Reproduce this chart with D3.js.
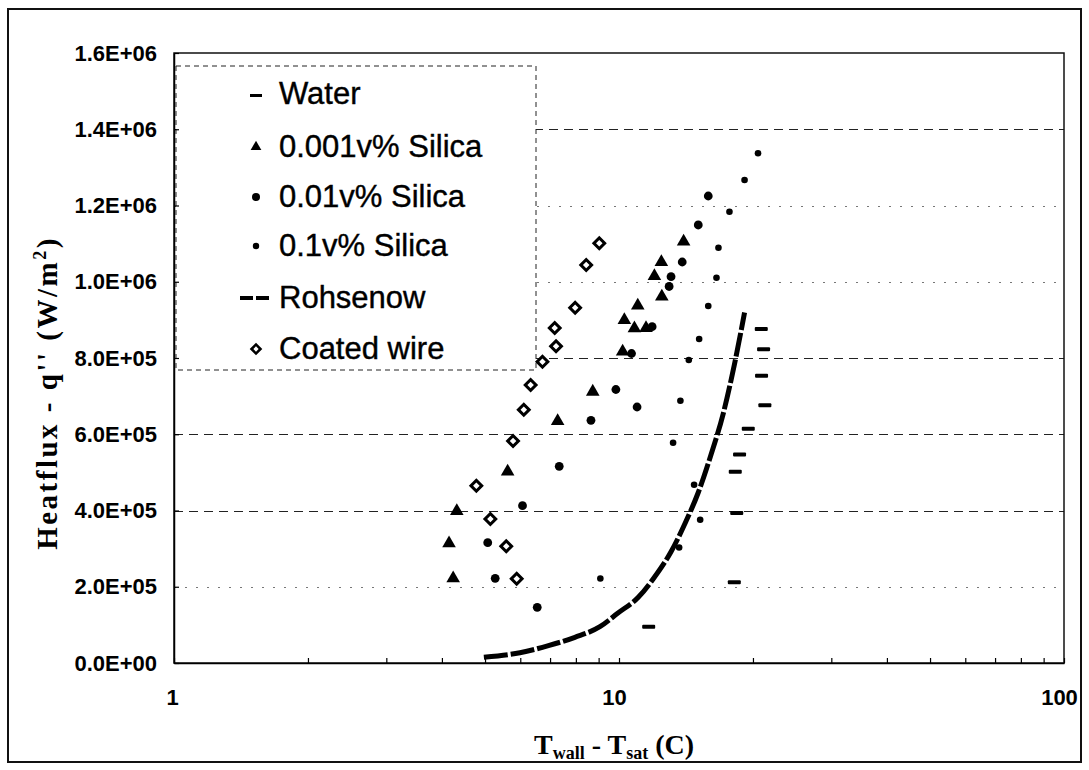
<!DOCTYPE html>
<html>
<head>
<meta charset="utf-8">
<script src="https://cdn.jsdelivr.net/npm/d3@7"></script>
<style>
  body { margin: 0; background: #fff; }
  svg { display: block; }
</style>
</head>
<body>
<svg id="chart"></svg>
<script>
// values: [deltaT (C), heat flux (W/m2)]
const water = [
  [11.66, 95200], [18.16, 211700], [18.39, 393500], [18.25, 501500], [18.66, 546900],
  [19.52, 614300], [21.27, 676200], [20.91, 753600], [21.13, 822800], [20.88, 876100]
]
const silica001 = [
  [4.24, 222200], [4.15, 314000], [4.32, 398700], [5.62, 502300], [7.28, 634800],
  [8.73, 711600], [10.19, 816600], [10.28, 899700], [10.83, 877900], [11.50, 878700],
  [11.02, 937700], [12.01, 1015100], [12.48, 960800], [12.45, 1051800], [13.97, 1105100]
]
const silica01 = [
  [5.07, 315600], [5.27, 222200], [6.07, 412600], [6.55, 146100], [7.34, 516000],
  [8.65, 636600], [9.84, 717400], [10.98, 671500], [10.67, 811800], [11.87, 882100],
  [12.96, 987600], [13.09, 1013300], [13.87, 1051800], [15.07, 1148900], [15.87, 1224900]
]
const silica1 = [
  [9.08, 221600], [13.65, 303000], [15.22, 375900], [14.75, 467700], [13.23, 577800],
  [13.74, 688000], [14.35, 794800], [15.14, 849900], [15.87, 936400], [16.56, 1010600],
  [16.73, 1089300], [17.71, 1183800], [19.15, 1266900], [20.53, 1336900]
]
const rohsenow = [
  [4.97, 15000], [5.99, 27000], [6.94, 45400], [7.96, 67400], [9.06, 95200],
  [9.93, 130400], [11.05, 172300], [12.01, 224800], [13.09, 291900], [14.12, 369800],
  [15.07, 447200], [16.09, 545600], [17.15, 654400], [18.16, 781700], [19.15, 919400]
]
const coated = [
  [9.03, 1100900], [8.44, 1043900], [7.97, 932000], [7.17, 878700], [7.22, 830700],
  [6.73, 790300], [6.33, 729200], [6.11, 664400], [5.78, 582300], [4.78, 465000],
  [5.14, 377700], [5.58, 306400], [5.89, 221100]
]

const legendLabels = ['Water', '0.001v% Silica', '0.01v% Silica', '0.1v% Silica', 'Rohsenow', 'Coated wire']
const yTicks = [0, 2e5, 4e5, 6e5, 8e5, 1e6, 1.2e6, 1.4e6, 1.6e6]
const yTickLabels = ['0.0E+00', '2.0E+05', '4.0E+05', '6.0E+05', '8.0E+05', '1.0E+06', '1.2E+06', '1.4E+06', '1.6E+06']
const xTicks = [1, 2, 3, 4, 5, 6, 7, 8, 9, 10, 20, 30, 40, 50, 60, 70, 80, 90, 100]
const xTickLabels = { 1: '1', 10: '10', 100: '100' }

const W = 1089
const H = 770
const pd = { top: 53, left: 174, right: 25, bottom: 107 }

const svg = d3.select('#chart')
  .attr('width', W)
  .attr('height', H)

const x = d3.scaleLog()
  .domain([1, 100])
  .range([pd.left, W - pd.right])

const y = d3.scaleLinear()
  .domain([0, 1.6e6])
  .range([H - pd.bottom, pd.top])

// outer frame
svg.append('rect')
  .attr('x', 8).attr('y', 9)
  .attr('width', 1073).attr('height', 753)
  .attr('fill', 'none')
  .attr('stroke', '#111')
  .attr('stroke-width', 2)

// gridlines (some print lighter in the original)
const faint = [2e5, 1e6, 1.2e6]
svg.append('g')
  .selectAll('line')
  .data(yTicks.filter(v => v > 0 && v < 1.6e6))
  .enter()
  .append('line')
  .attr('x1', pd.left)
  .attr('x2', W - pd.right)
  .attr('y1', d => Math.round(y(d)) + 0.5)
  .attr('y2', d => Math.round(y(d)) + 0.5)
  .attr('stroke', d => faint.includes(d) ? '#777' : '#222')
  .attr('stroke-width', 1.2)
  .attr('stroke-dasharray', d => faint.includes(d) ? '2,9' : '9,6')

// legend box
const lg = svg.append('g')
lg.append('rect')
  .attr('x', 176).attr('y', 66)
  .attr('width', 360).attr('height', 304)
  .attr('fill', '#fff')
  .attr('stroke', '#222')
  .attr('stroke-width', 1)
  .attr('stroke-dasharray', '5,4')

const rowY = [93, 146, 196, 245, 297, 348]
const sx = 256
lg.selectAll('text')
  .data(legendLabels)
  .enter()
  .append('text')
  .attr('x', 279)
  .attr('y', (d, i) => rowY[i])
  .attr('dy', '0.36em')
  .attr('font-family', 'Liberation Sans, Arial, sans-serif')
  .attr('font-size', 31)
  .attr('fill', '#000')
  .attr('stroke', '#000')
  .attr('stroke-width', 0.4)
  .text(d => d)

const tri = d3.symbol().type(d3.symbolTriangle)
const sq = d3.symbol().type(d3.symbolSquare)

// legend symbols
lg.append('rect').attr('x', sx - 6).attr('y', rowY[0] + 1).attr('width', 12).attr('height', 3).attr('fill', '#000')
lg.append('path').attr('d', tri.size(50)()).attr('transform', `translate(${sx},${rowY[1] + 1})`).attr('fill', '#000')
lg.append('circle').attr('cx', sx).attr('cy', rowY[2] + 1).attr('r', 4).attr('fill', '#000')
lg.append('circle').attr('cx', sx).attr('cy', rowY[3] + 1).attr('r', 3.2).attr('fill', '#000')
lg.append('line').attr('x1', sx - 16).attr('x2', sx + 14).attr('y1', rowY[4] + 1).attr('y2', rowY[4] + 1)
  .attr('stroke', '#000').attr('stroke-width', 4).attr('stroke-dasharray', '13,3')
lg.append('path').attr('d', sq.size(40)()).attr('transform', `translate(${sx},${rowY[5] + 1}) rotate(45)`)
  .attr('fill', '#fff').attr('stroke', '#000').attr('stroke-width', 2.6)

// data
const g = svg.append('g')

g.append('path')
  .datum(rohsenow)
  .attr('d', d3.line().curve(d3.curveMonotoneX).x(v => x(v[0])).y(v => y(v[1])))
  .attr('fill', 'none')
  .attr('stroke', '#000')
  .attr('stroke-width', 5)
  .attr('stroke-dasharray', '24,3')

g.append('g').selectAll('rect')
  .data(water).enter().append('rect')
  .attr('x', v => x(v[0]) - 6.5)
  .attr('y', v => y(v[1]) - 2)
  .attr('width', 13).attr('height', 4)
  .attr('rx', 1)
  .attr('fill', '#000')

g.append('g').selectAll('path')
  .data(silica001).enter().append('path')
  .attr('d', tri.size(80)())
  .attr('transform', v => `translate(${x(v[0])},${y(v[1])})`)
  .attr('fill', '#000')

g.append('g').selectAll('circle')
  .data(silica01).enter().append('circle')
  .attr('cx', v => x(v[0]))
  .attr('cy', v => y(v[1]))
  .attr('r', 4.4)
  .attr('fill', '#000')

g.append('g').selectAll('circle')
  .data(silica1).enter().append('circle')
  .attr('cx', v => x(v[0]))
  .attr('cy', v => y(v[1]))
  .attr('r', 3.3)
  .attr('fill', '#000')

g.append('g').selectAll('path')
  .data(coated).enter().append('path')
  .attr('d', sq.size(58)())
  .attr('transform', v => `translate(${x(v[0])},${y(v[1])}) rotate(45)`)
  .attr('fill', '#fff')
  .attr('stroke', '#000')
  .attr('stroke-width', 3)

// plot frame
svg.append('rect')
  .attr('x', pd.left).attr('y', pd.top)
  .attr('width', W - pd.right - pd.left)
  .attr('height', H - pd.bottom - pd.top)
  .attr('fill', 'none')
  .attr('stroke', '#111')
  .attr('stroke-width', 1.5)

// axes
const ya = svg.append('g')
  .attr('transform', `translate(${pd.left},0)`)
  .call(
    d3.axisLeft(y)
      .tickValues(yTicks)
      .tickFormat((d, i) => yTickLabels[i])
      .tickSizeInner(-5)
      .tickSizeOuter(0)
      .tickPadding(17)
  )

const xa = svg.append('g')
  .attr('transform', `translate(0,${H - pd.bottom})`)
  .call(
    d3.axisBottom(x)
      .tickValues(xTicks)
      .tickFormat(d => xTickLabels[d] || '')
      .tickSizeInner(-5)
      .tickSizeOuter(0)
      .tickPadding(26)
  )
xa.selectAll('.tick text').attr('dx', d => d === 1 ? -2 : -5)

svg.selectAll('.tick text')
  .attr('font-family', 'Liberation Sans, Arial, sans-serif')
  .attr('font-weight', 'bold')
  .attr('font-size', 22)
  .attr('fill', '#000')
svg.selectAll('.tick line').attr('stroke', '#000').attr('stroke-width', 1.2)
svg.selectAll('.domain').attr('stroke', '#000').attr('stroke-width', 1.5)

// axis titles
const xt = svg.append('text')
  .attr('x', 614)
  .attr('y', 754)
  .attr('text-anchor', 'middle')
  .attr('font-family', 'Liberation Serif, Times New Roman, serif')
  .attr('font-weight', 'bold')
  .attr('font-size', 28)
xt.append('tspan').text('T')
xt.append('tspan').attr('font-size', 18).attr('dy', 5).text('wall')
xt.append('tspan').attr('dy', -5).text(' - T')
xt.append('tspan').attr('font-size', 18).attr('dy', 5).text('sat')
xt.append('tspan').attr('dy', -5).text(' (C)')

const yt = svg.append('text')
  .attr('transform', 'translate(57,393) rotate(-90)')
  .attr('text-anchor', 'middle')
  .attr('font-family', 'Liberation Serif, Times New Roman, serif')
  .attr('font-weight', 'bold')
  .attr('font-size', 29)
  .attr('letter-spacing', 2.5)
yt.append('tspan').text("Heatflux - q'' (W/m")
yt.append('tspan').attr('font-size', 18).attr('dy', -11).text('2')
yt.append('tspan').attr('dy', 11).text(')')
</script>
</body>
</html>
